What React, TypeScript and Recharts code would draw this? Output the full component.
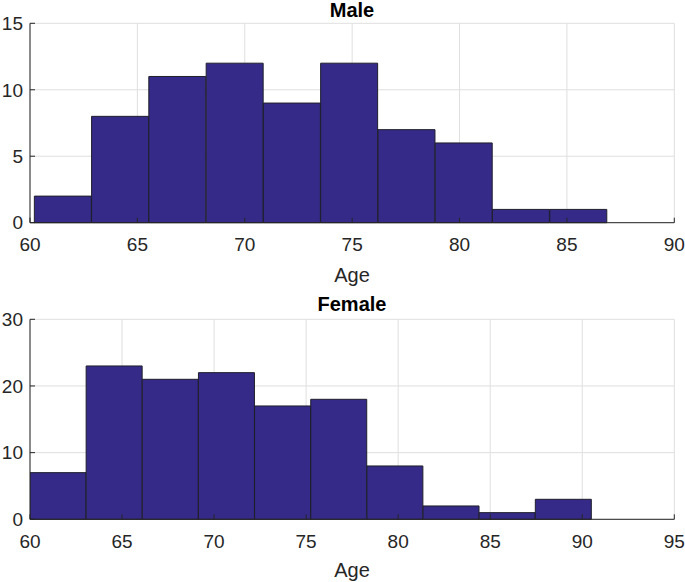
import React from "react";
import {
  ComposedChart,
  Bar,
  XAxis,
  YAxis,
  CartesianGrid,
} from "recharts";

// histogram bin edges + counts
const maleEdges = [60.2, 62.87, 65.53, 68.2, 70.87, 73.53, 76.2, 78.87, 81.53, 84.2, 86.87];
const maleCounts = [2, 8, 11, 12, 9, 12, 7, 6, 1, 1];
const maleXTicks = [60, 65, 70, 75, 80, 85, 90];
const maleYTicks = [0, 5, 10, 15];

const femaleEdges = [60, 63.05, 66.1, 69.15, 72.2, 75.25, 78.3, 81.35, 84.4, 87.45, 90.5];
const femaleCounts = [7, 23, 21, 22, 17, 18, 8, 2, 1, 3];
const femaleXTicks = [60, 65, 70, 75, 80, 85, 90, 95];
const femaleYTicks = [0, 10, 20, 30];

const FONT = '"Liberation Sans", Arial, Helvetica, sans-serif';
const AXIS = "#262626";
const FILL = "#352a87";

function toBins(edges: number[], counts: number[]) {
  return counts.map((c, i) => ({
    mid: (edges[i] + edges[i + 1]) / 2,
    count: c,
  }));
}

function Hist(props: {
  data: { mid: number; count: number }[];
  xTicks: number[];
  yTicks: number[];
  height: number;
  margin: { top: number; right: number; bottom: number; left: number };
}) {
  const { data, xTicks, yTicks, height, margin } = props;
  const xDom: [number, number] = [xTicks[0], xTicks[xTicks.length - 1]];
  const yDom: [number, number] = [yTicks[0], yTicks[yTicks.length - 1]];
  const tickStyle = { fill: AXIS, fontSize: 19, fontFamily: FONT };
  const axisLine = { stroke: AXIS, strokeWidth: 1 };

  return (
    <ComposedChart
      width={685}
      height={height}
      data={data}
      margin={margin}
      barCategoryGap={0}
      barGap={0}
    >
      <CartesianGrid
        xAxisId="b"
        yAxisId="l"
        stroke="#dfdfdf"
        vertical
        horizontal
      />
      <XAxis
        xAxisId="b"
        dataKey="mid"
        type="number"
        domain={xDom}
        ticks={xTicks}
        allowDataOverflow
        height={40}
        axisLine={axisLine}
        tickLine={{ stroke: AXIS }}
        tickSize={-5}
        tickMargin={20}
        tick={tickStyle}
        interval={0}
      />
      <XAxis
        xAxisId="t"
        orientation="top"
        type="number"
        domain={xDom}
        ticks={xTicks}
        allowDataOverflow
        height={0}
        axisLine={axisLine}
        tickLine={{ stroke: AXIS }}
        tickSize={-5}
        tick={{ fill: "none", fontSize: 1 }}
        interval={0}
      />
      <YAxis
        yAxisId="l"
        type="number"
        domain={yDom}
        ticks={yTicks}
        width={30}
        axisLine={axisLine}
        tickLine={{ stroke: AXIS }}
        tickSize={-5}
        tickMargin={12}
        tick={tickStyle}
        interval={0}
      />
      <YAxis
        yAxisId="r"
        orientation="right"
        type="number"
        domain={yDom}
        ticks={yTicks}
        width={0}
        axisLine={axisLine}
        tickLine={{ stroke: AXIS }}
        tickSize={-5}
        tick={{ fill: "none", fontSize: 1 }}
        interval={0}
      />
      <Bar
        xAxisId="b"
        yAxisId="l"
        dataKey="count"
        fill={FILL}
        stroke="#1f1f2b"
        strokeWidth={1}
        isAnimationActive={false}
      />
    </ComposedChart>
  );
}

const titleStyle: React.CSSProperties = {
  position: "absolute",
  left: 30,
  width: 644,
  textAlign: "center",
  fontFamily: FONT,
  fontWeight: "bold",
  fontSize: 20,
  lineHeight: "20px",
  color: "#000",
};

const labelStyle: React.CSSProperties = {
  position: "absolute",
  left: 30,
  width: 644,
  textAlign: "center",
  fontFamily: FONT,
  fontSize: 20,
  lineHeight: "20px",
  color: AXIS,
};

export default function App() {
  return (
    <div
      style={{
        position: "absolute",
        left: 0,
        top: 0,
        width: 685,
        height: 582,
        background: "#fff",
        overflow: "hidden",
      }}
    >
      <div style={{ position: "absolute", left: 0, top: 0 }}>
        <Hist
          data={toBins(maleEdges, maleCounts)}
          xTicks={maleXTicks}
          yTicks={maleYTicks}
          height={290}
          margin={{ top: 23.3, right: 10.7, bottom: 27.3, left: 0 }}
        />
      </div>
      <div style={{ position: "absolute", left: 0, top: 290 }}>
        <Hist
          data={toBins(femaleEdges, femaleCounts)}
          xTicks={femaleXTicks}
          yTicks={femaleYTicks}
          height={292}
          margin={{ top: 29.3, right: 10.7, bottom: 22.7, left: 0 }}
        />
      </div>
      <div style={{ ...titleStyle, top: 0 }}>Male</div>
      <div style={{ ...titleStyle, top: 294 }}>Female</div>
      <div style={{ ...labelStyle, top: 264.5 }}>Age</div>
      <div style={{ ...labelStyle, top: 559.5 }}>Age</div>
    </div>
  );
}
